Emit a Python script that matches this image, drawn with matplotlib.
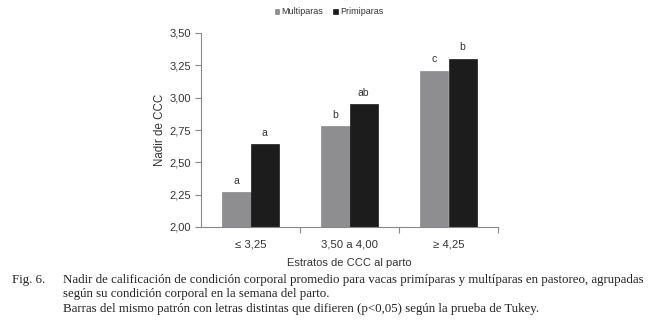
import numpy as np
import matplotlib.pyplot as plt

# ---- data ----
categories = ["\u2264 3,25", "3,50 a 4,00", "\u2265 4,25"]
multiparas = [2.27, 2.78, 3.21]
primiparas = [2.64, 2.95, 3.30]
letters_multi = ["a", "b", "c"]
letters_primi = ["a", "ab", "b"]
yticks = [2.00, 2.25, 2.50, 2.75, 3.00, 3.25, 3.50]

caption = [
    "Nadir de calificaci\u00f3n de condici\u00f3n corporal promedio para vacas prim\u00edparas y mult\u00edparas en pastoreo, agrupadas",
    "seg\u00fan su condici\u00f3n corporal en la semana del parto.",
    "Barras del mismo patr\u00f3n con letras distintas que difieren (p<0,05) seg\u00fan la prueba de Tukey.",
]

plt.rcParams["font.family"] = ["Liberation Sans", "DejaVu Sans"]

fig = plt.figure(figsize=(6.51, 3.24), dpi=100)
W, H = 651, 324
ax = fig.add_axes([201 / W, 1 - 227 / H, (498 - 201) / W, (227 - 33) / H])

x = np.arange(len(categories))
w = 0.285
gray, black = "#8e8e90", "#1c1c1c"
b1 = ax.bar(x - w / 2, multiparas, w, color=gray, edgecolor="#7a7a7a", lw=0.4,
            label="Multiparas")
b2 = ax.bar(x + w / 2, primiparas, w, color=black, edgecolor="#000000", lw=0.4,
            label="Primiparas")
for xi, v, t in zip(x - w / 2, multiparas, letters_multi):
    ax.text(xi, v + 0.05, t, ha="center", va="bottom", fontsize=7.5, color="#333333")
for xi, v, t in zip(x + w / 2, primiparas, letters_primi):
    ax.text(xi, v + 0.05, t, ha="center", va="bottom", fontsize=7.5, color="#333333")

ax.set_xlim(-0.5, 2.5)
ax.set_ylim(2.0, 3.5)
ax.set_yticks(yticks)
ax.set_yticklabels([f"{v:.2f}".replace(".", ",") for v in yticks], fontsize=8,
                   color="#333333")
ax.set_xticks(x)
ax.set_xticklabels(categories, fontsize=8.2, color="#333333")
ax.tick_params(axis="x", length=0, pad=9)
ax.set_xticks([0.5, 1.5, 2.5], minor=True)
ax.tick_params(axis="x", which="minor", length=4, color="#888888", width=0.8)
ax.tick_params(axis="y", length=4, color="#888888", width=0.8, pad=3)
for s in ["top", "right"]:
    ax.spines[s].set_visible(False)
for s in ["left", "bottom"]:
    ax.spines[s].set_color("#888888")
    ax.spines[s].set_linewidth(0.8)
ax.set_ylabel("Nadir de CCC", fontsize=8.3, color="#333333")
ax.yaxis.set_label_coords(-0.118, 0.5)
ax.set_xlabel("Estratos de CCC al parto", fontsize=8, color="#333333", labelpad=6)

fig.legend(handles=[b1, b2], loc="center", bbox_to_anchor=(329 / W, 1 - 12 / H),
           ncol=2, frameon=False, fontsize=6.5, handlelength=0.5, handleheight=0.5,
           handletextpad=0.25, columnspacing=1.1, labelcolor="#333333")

fig.text(12 / W, 1 - 280 / H, "Fig. 6.", family="Liberation Serif", fontsize=9.3,
         va="center", color="#222222")
for i, line in enumerate(caption):
    fig.text(63 / W, 1 - (280 + 14.3 * i) / H, line, family="Liberation Serif",
             fontsize=9.3, va="center", color="#222222")

fig.savefig("out.png", dpi=100)
